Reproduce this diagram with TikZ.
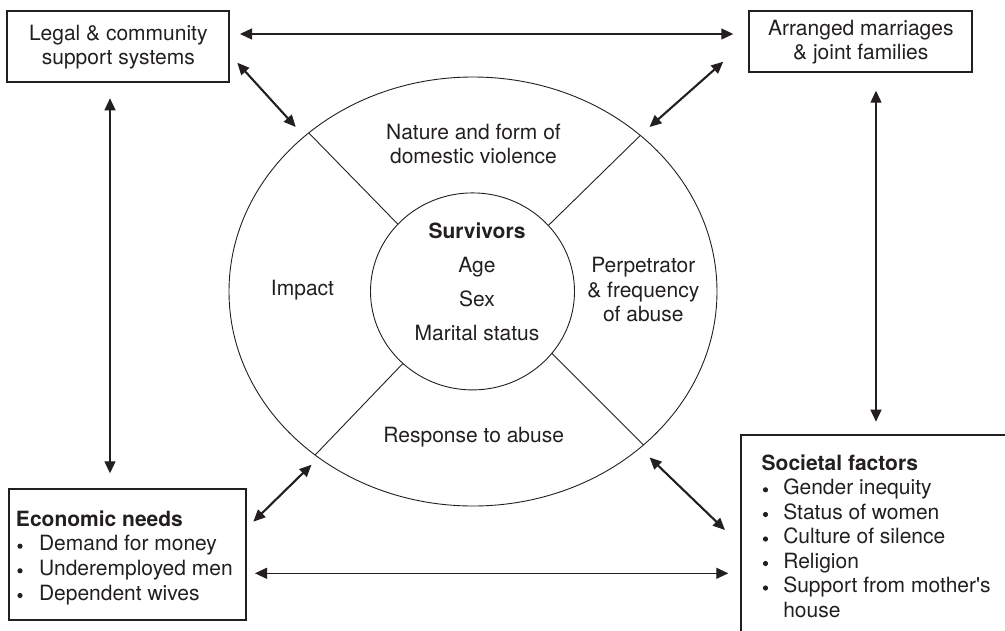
\documentclass[tikz,border=0pt]{standalone}
\usepackage{fontspec}
\setmainfont{TeX Gyre Heros}
\usetikzlibrary{arrows.meta,shapes.geometric}
\definecolor{ink}{HTML}{231F20}
\newcommand{\fnt}{\fontsize{21}{24.5}\selectfont}
\begin{document}
\begin{tikzpicture}[x=1pt,y=-1pt,
  box/.style={draw=ink, line width=1.1pt, rectangle, inner sep=0pt, outer sep=0pt},
  ring/.style={draw=ink, line width=0.9pt, ellipse, inner sep=0pt, outer sep=0pt},
  thinline/.style={draw=ink, line width=0.9pt},
  txt/.style={inner sep=0pt, outer sep=0pt, font=\fnt, text=ink},
  dot/.style={fill=ink},
  conn/.style={draw=ink, line width=1.2pt, {Triangle[length=12pt,width=11pt]}-{Triangle[length=12pt,width=11pt]}},
  diag/.style={draw=ink, line width=2.1pt, {Triangle[length=12pt,width=10.5pt]}-{Triangle[length=12pt,width=10.5pt]}}]
\useasboundingbox (0,0) rectangle (1005,630);
\clip (0,0) rectangle (1005,630);

% boxes
\node[box, minimum width=222pt, minimum height=71pt] (legal) at (118,46.5) {};
\node[box, minimum width=223pt, minimum height=61pt] (arr) at (860.5,41.5) {};
\node[box, minimum width=237pt, minimum height=131pt] (econ) at (127.5,554.5) {};
\node[box, minimum width=270pt, minimum height=210pt] (soc) at (876,540) {};

% rings
\node[ring, minimum width=488pt, minimum height=429pt] (outer) at (473,291.5) {};
\node[ring, minimum width=204pt, minimum height=197pt] (inner) at (472.5,291.4) {};

% dividers
\draw[thinline] (inner.138) -- (outer.136);
\draw[thinline] (inner.41) -- (outer.43);
\draw[thinline] (inner.226) -- (outer.226);
\draw[thinline] (inner.322) -- (outer.318);

% box texts
\node[txt, anchor=base] (l1) at (118.3,40.7) {Legal \& community};
\node[txt, anchor=base] (l2) at (118.3,64.3) {support systems};
\node[txt, anchor=base] (a1) at (860.8,35) {Arranged marriages};
\node[txt, anchor=base] (a2) at (860.8,59.3) {\& joint families};

\node[txt, anchor=base west, font=\fnt\bfseries] (e0) at (16,526) {Economic needs};
\node[txt, anchor=base west] (e1) at (39,550.7) {Demand for money};
\node[txt, anchor=base west] (e2) at (39,575.3) {Underemployed men};
\node[txt, anchor=base west] (e3) at (39,600) {Dependent wives};
\fill[dot] (20,546.2) circle[radius=2.6];
\fill[dot] (20,570.8) circle[radius=2.6];
\fill[dot] (20,595.5) circle[radius=2.6];

\node[txt, anchor=base west, font=\fnt\bfseries] (s0) at (761.7,470) {Societal factors};
\node[txt, anchor=base west] (s1) at (783.3,494.3) {Gender inequity};
\node[txt, anchor=base west] (s2) at (783.3,519) {Status of women};
\node[txt, anchor=base west] (s3) at (783.3,543.5) {Culture of silence};
\node[txt, anchor=base west] (s4) at (783.3,568) {Religion};
\node[txt, anchor=base west] (s5) at (783.3,592.5) {Support from mother\textquotesingle s};
\node[txt, anchor=base west] (s6) at (783.3,617) {house};
\fill[dot] (765.5,489.8) circle[radius=2.6];
\fill[dot] (765.5,514.5) circle[radius=2.6];
\fill[dot] (765.5,539) circle[radius=2.6];
\fill[dot] (765.5,563.5) circle[radius=2.6];
\fill[dot] (765.5,588) circle[radius=2.6];

% ring texts
\node[txt, anchor=base] (n1) at (473.5,139.2) {Nature and form of};
\node[txt, anchor=base] (n2) at (473.5,163) {domestic violence};
\node[txt, anchor=base] (imp) at (302.5,295) {Impact};
\node[txt, anchor=base, font=\fnt\bfseries] (c0) at (477,238.5) {Survivors};
\node[txt, anchor=base] (c1) at (477,272.5) {Age};
\node[txt, anchor=base] (c2) at (477,306.5) {Sex};
\node[txt, anchor=base] (c3) at (477,340.5) {Marital status};
\node[txt, anchor=base] (p1) at (643.3,272.5) {Perpetrator};
\node[txt, anchor=base] (p2) at (643.3,297) {\& frequency};
\node[txt, anchor=base] (p3) at (643.3,321.5) {of abuse};
\node[txt, anchor=base] (r1) at (473.7,442.7) {Response to abuse};

% straight connectors
\draw[conn] ([shift={(11,-12.5)}]legal.east) -- ([shift={(-15.7,-7.5)}]arr.west);
\draw[conn] ([shift={(9,18.8)}]econ.east) -- ([shift={(-12.7,138.3)}]soc.north west);
\draw[conn] ([shift={(-8,16.3)}]legal.south) -- ([shift={(-17.5,-15.7)}]econ.north);
\draw[conn] ([shift={(15.5,18.7)}]arr.south) -- ([shift={(135,-13.3)}]soc.north west);

% diagonal connectors
\draw[diag] ([shift={(8.3,16.2)}]legal.east) -- ([shift={(-13,-5.9)}]outer.136);
\draw[diag] ([shift={(-25.7,-10.3)}]arr.south west) -- ([shift={(9.1,-8.4)}]outer.43);
\draw[diag] ([shift={(7.3,32.7)}]econ.north east) -- ([shift={(-3.6,9.7)}]outer.226);
\draw[diag] ([shift={(-16,95)}]soc.north west) -- ([shift={(6.1,12.4)}]outer.318);
\end{tikzpicture}
\end{document}
